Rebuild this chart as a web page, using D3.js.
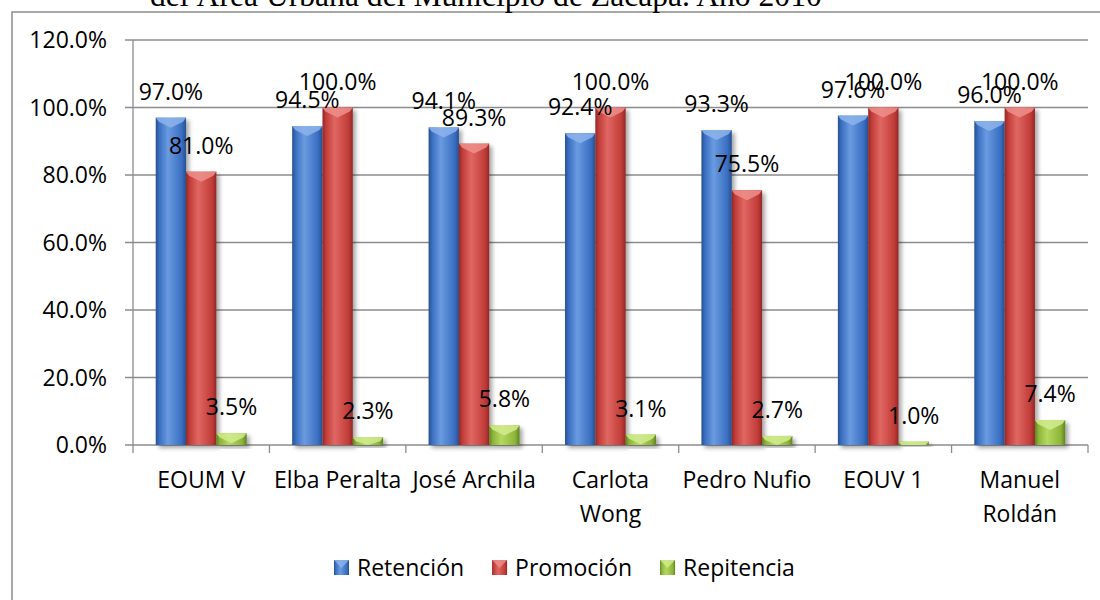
<!DOCTYPE html>
<html><head><meta charset="utf-8">
<script src="https://cdn.jsdelivr.net/npm/d3@7"></script>
<style>body{margin:0;background:#fff}svg{display:block}</style>
</head><body>
<svg id="chart" width="1100" height="600"></svg>
<script>
const titleText = "del Área Urbana del Municipio de Zacapa. Año 2010";
const categories = ["EOUM V","Elba Peralta","José Archila","Carlota Wong","Pedro Nufio","EOUV 1","Manuel Roldán"];
const categoryLines = [["EOUM V"],["Elba Peralta"],["José Archila"],["Carlota","Wong"],["Pedro Nufio"],["EOUV 1"],["Manuel","Roldán"]];
const seriesNames = ["Retención","Promoción","Repitencia"];
const retencion = [0.970,0.945,0.941,0.924,0.933,0.976,0.960];
const promocion = [0.810,1.000,0.893,1.000,0.755,1.000,1.000];
const repitencia = [0.035,0.023,0.058,0.031,0.027,0.010,0.074];
const yTicks = [0,0.2,0.4,0.6,0.8,1.0,1.2];
const seriesColors = [
  {base:"#3a6fc2", light:"#6a9be0", dark:"#27508f", cap:"#8db4ec"},
  {base:"#c23d39", light:"#e06763", dark:"#922727", cap:"#ee8f8c"},
  {base:"#8db53a", light:"#b4d860", dark:"#5f8220", cap:"#d2ec8e"}
];
const series = [retencion, promocion, repitencia];

(function(){
const svg = d3.select("#chart");
const font = "'Open Sans', 'Noto Sans', sans-serif";
const fs = 23;
svg.append("rect").attr("width",1100).attr("height",600).attr("fill","#fff");

const defs = svg.append("defs");
seriesColors.forEach((c,i)=>{
  const g = defs.append("linearGradient").attr("id","g"+i).attr("x1","0").attr("x2","1").attr("y1","0").attr("y2","0");
  g.append("stop").attr("offset","0%").attr("stop-color",c.dark);
  g.append("stop").attr("offset","12%").attr("stop-color",c.base);
  g.append("stop").attr("offset","40%").attr("stop-color",c.light);
  g.append("stop").attr("offset","85%").attr("stop-color",c.base);
  g.append("stop").attr("offset","100%").attr("stop-color",c.dark);
});
const f = defs.append("filter").attr("id","sh").attr("x","-20%").attr("y","-20%").attr("width","150%").attr("height","150%");
f.append("feDropShadow").attr("dx",3).attr("dy",3).attr("stdDeviation",2).attr("flood-color","#000").attr("flood-opacity",0.35);

svg.append("rect").attr("x",12).attr("y",12).attr("width",1200).attr("height",700)
  .attr("fill","none").attr("stroke","#8c8c8c").attr("stroke-width",1.5);

const t = svg.append("text").attr("x",150).attr("y",6)
  .attr("font-family","'Liberation Serif','Times New Roman',serif").attr("font-size",26)
  .attr("fill","#000").text(titleText);
const tw = t.node().getComputedTextLength();
t.attr("font-size", 26*672/tw);

const pl = 133, pr = 1088, pt = 40, pb = 445;
const y = d3.scaleLinear().domain([0,1.2]).range([pb, pt]);
const x = d3.scaleBand().domain(categories).range([pl,pr]).paddingInner(0).paddingOuter(0);
const bw = x.bandwidth()/4.5;
const gOff = (x.bandwidth()-3*bw)/2;

svg.append("g").selectAll("line").data(yTicks).join("line")
  .attr("x1",pl-8).attr("x2",pr).attr("y1",d=>y(d)).attr("y2",d=>y(d))
  .attr("stroke","#8c8c8c").attr("stroke-width",1.3);
svg.append("line").attr("x1",pl).attr("x2",pl).attr("y1",pt).attr("y2",pb)
  .attr("stroke","#8c8c8c").attr("stroke-width",1.3);
const fmt = d3.format(".1%");
svg.append("g").selectAll("text").data(yTicks).join("text")
  .attr("x",107).attr("y",d=>y(d)).attr("dy","0.35em").attr("text-anchor","end")
  .attr("font-family",font).attr("font-size",fs).attr("fill","#000").text(d=>fmt(d));
const xt = categories.map(c=>x(c)).concat([pr]);
svg.append("g").selectAll("line").data(xt).join("line")
  .attr("x1",d=>d).attr("x2",d=>d).attr("y1",pb).attr("y2",pb+8)
  .attr("stroke","#8c8c8c").attr("stroke-width",1.3);

series.forEach((vals,si)=>{
  const c = seriesColors[si];
  const g = svg.append("g");
  vals.forEach((v,ci)=>{
    const x0 = x(categories[ci]) + gOff + si*bw;
    const y0 = y(v), h = pb - y0;
    const bg = g.append("g").attr("filter","url(#sh)");
    bg.append("rect").attr("x",x0).attr("y",y0).attr("width",bw).attr("height",h).attr("fill","url(#g"+si+")");
    const cap = Math.min(10, h);
    bg.append("polygon")
      .attr("points",[[x0,y0],[x0+bw,y0],[x0+bw-3,y0+Math.min(4,h)],[x0+bw/2,y0+cap],[x0+3,y0+Math.min(4,h)]].map(p=>p.join(",")).join(" "))
      .attr("fill",c.cap).attr("opacity",0.85);
  });
});
series.forEach((vals,si)=>{
  svg.append("g").selectAll("text").data(vals).join("text")
    .attr("x",(d,i)=>x(categories[i]) + gOff + si*bw + bw/2)
    .attr("y",d=>y(d)-18).attr("text-anchor","middle")
    .attr("font-family",font).attr("font-size",fs).attr("fill","#000")
    .text(d=>fmt(d));
});
categoryLines.forEach((lines,i)=>{
  const cx = x(categories[i])+x.bandwidth()/2;
  const tx = svg.append("text").attr("x",cx).attr("y",488)
    .attr("text-anchor","middle").attr("font-family",font).attr("font-size",fs).attr("fill","#000");
  lines.forEach((l,j)=>tx.append("tspan").attr("x",cx).attr("dy",j?34:0).text(l));
});
// legend laid out sequentially
let lx = 334;
const sq = 15, ly = 560;
seriesNames.forEach((n,i)=>{
  const c = seriesColors[i];
  svg.append("rect").attr("x",lx).attr("y",ly).attr("width",sq).attr("height",sq).attr("fill","url(#g"+i+")");
  svg.append("polygon").attr("points",`${lx},${ly} ${lx+sq},${ly} ${lx+sq/2},${ly+8}`).attr("fill",c.cap).attr("opacity",0.8);
  const tx = svg.append("text").attr("x",lx+sq+8).attr("y",ly+sq/2).attr("dy","0.35em")
    .attr("font-family",font).attr("font-size",fs).attr("fill","#000").text(n);
  lx = lx + sq + 8 + tx.node().getComputedTextLength() + 28;
});
})();
</script>
</body></html>
